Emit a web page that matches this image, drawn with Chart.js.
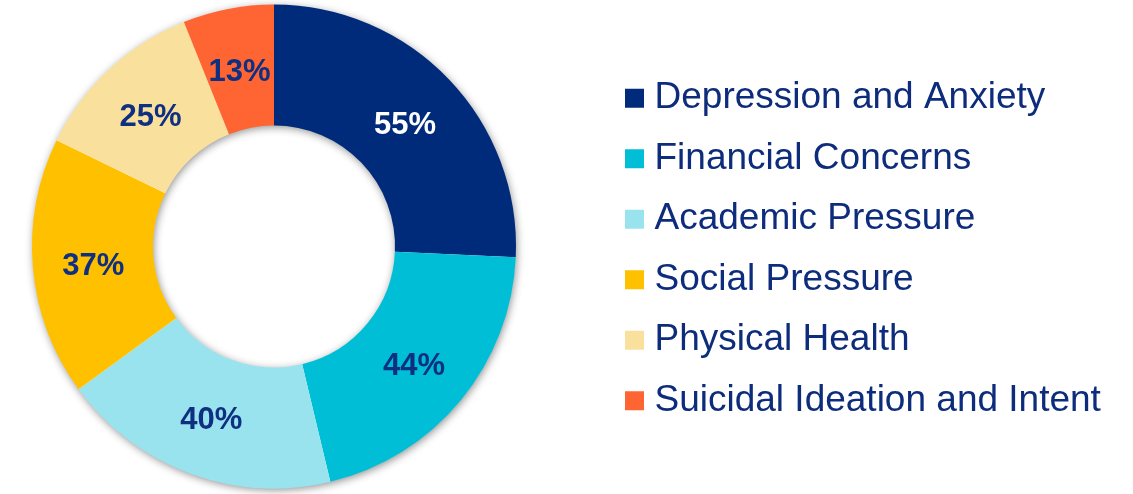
<!DOCTYPE html>
<html>
<head>
<meta charset="utf-8">
<script src="https://cdn.jsdelivr.net/npm/chart.js@4.4.1/dist/chart.umd.min.js"></script>
<style>
  html, body { margin: 0; padding: 0; background: #ffffff; }
  #wrap { width: 1133px; height: 494px; }
</style>
</head>
<body>
<div id="wrap"><canvas id="c" width="1133" height="494"></canvas></div>
<script>
const categories = [
  'Depression and Anxiety',
  'Financial Concerns',
  'Academic Pressure',
  'Social Pressure',
  'Physical Health',
  'Suicidal Ideation and Intent'
];
const percentValues = [55, 44, 40, 37, 25, 13];
const sliceColors = ['#002A7A', '#00BED6', '#98E3EE', '#FFC000', '#F9E19D', '#FF6532'];
const labelColors = ['#FFFFFF', '#0F2F80', '#0F2F80', '#0F2F80', '#0F2F80', '#0F2F80'];
const textNavy = '#0D2C7C';

const FONT = "'Liberation Sans', Arial, sans-serif";

const legendPlacement = {
  id: 'legendPlacement',
  beforeInit(chart) {
    const lg = chart.legend;
    if (lg && !lg._patched) {
      const origFit = lg.fit;
      lg.fit = function () {
        origFit.call(this);
        this.width = 585;
      };
      lg._patched = true;
    }
  },
  afterLayout(chart) {
    const lg = chart.legend;
    if (!lg) return;
    lg.left = 609.5;
    lg.right = 1133;
    lg.top = lg.top + 3;
    lg.bottom = lg.bottom + 3;
  }
};

const ringShadow = {
  id: 'ringShadow',
  beforeDatasetsDraw(chart) {
    const meta = chart.getDatasetMeta(0);
    if (!meta.data.length) return;
    const a = meta.data[0];
    const ctx = chart.ctx;
    ctx.save();
    ctx.shadowColor = 'rgba(0,0,0,0.45)';
    ctx.shadowBlur = 9;
    ctx.shadowOffsetX = 1;
    ctx.shadowOffsetY = 2;
    ctx.fillStyle = '#ffffff';
    ctx.beginPath();
    ctx.arc(a.x, a.y, a.outerRadius - 0.5, 0, Math.PI * 2);
    ctx.arc(a.x, a.y, a.innerRadius + 0.5, 0, Math.PI * 2, true);
    ctx.closePath();
    ctx.fill('evenodd');
    ctx.restore();
  }
};

const sliceLabels = {
  id: 'sliceLabels',
  afterDatasetsDraw(chart) {
    const meta = chart.getDatasetMeta(0);
    const ctx = chart.ctx;
    ctx.save();
    ctx.font = 'bold 31px ' + FONT;
    ctx.textAlign = 'center';
    ctx.textBaseline = 'middle';
    meta.data.forEach((arc, i) => {
      const p = arc.tooltipPosition();
      ctx.fillStyle = labelColors[i];
      ctx.fillText(percentValues[i] + '%', p.x, p.y + 4);
    });
    ctx.restore();
  }
};

new Chart(document.getElementById('c'), {
  type: 'doughnut',
  data: {
    labels: categories,
    datasets: [{
      data: percentValues,
      backgroundColor: sliceColors,
      borderWidth: 0,
      hoverOffset: 0
    }]
  },
  options: {
    responsive: false,
    animation: false,
    cutout: '50%',
    layout: { padding: { top: 4.5, bottom: 5.5, left: 0, right: 0 } },
    plugins: {
      tooltip: { enabled: false },
      legend: {
        position: 'right',
        align: 'center',
        labels: {
          color: textNavy,
          font: { family: FONT, size: 37 },
          boxWidth: 3,
          boxHeight: 3,
          padding: 23.5,
          generateLabels(chart) {
            const base = Chart.overrides.doughnut.plugins.legend.labels.generateLabels(chart);
            return base.map(it => Object.assign(it, {
              lineWidth: 16,
              strokeStyle: it.fillStyle,
              lineJoin: 'miter'
            }));
          }
        }
      }
    }
  },
  plugins: [legendPlacement, ringShadow, sliceLabels]
});
</script>
</body>
</html>
